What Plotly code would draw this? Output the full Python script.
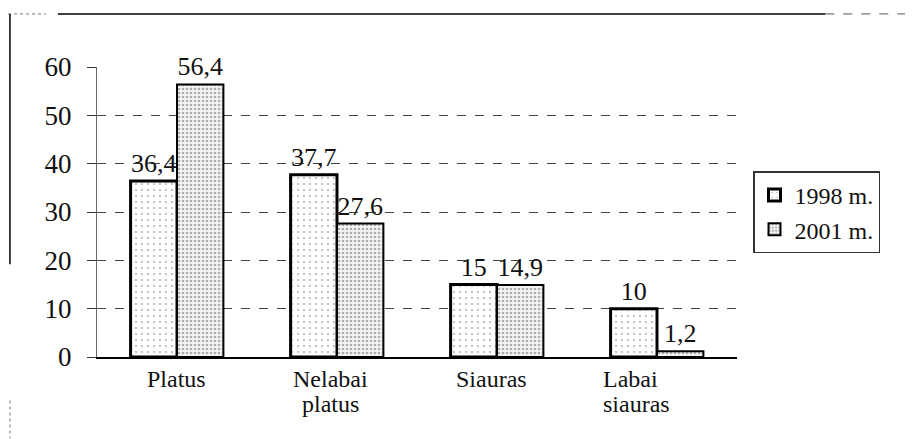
import plotly.graph_objects as go

categories = ["Platus", "Nelabai platus", "Siauras", "Labai siauras"]
category_lines = [["Platus"], ["Nelabai", "platus"], ["Siauras"], ["Labai", "siauras"]]
values_1998 = [36.4, 37.7, 15, 10]
values_2001 = [56.4, 27.6, 14.9, 1.2]
labels_1998 = ["36,4", "37,7", "15", "10"]
labels_2001 = ["56,4", "27,6", "14,9", "1,2"]
series_names = ["1998 m.", "2001 m."]
y_ticks = [0, 10, 20, 30, 40, 50, 60]

serif = "Liberation Serif"

fig = go.Figure()
fig.add_trace(go.Bar(
    x=categories, y=values_1998, name=series_names[0],
    text=labels_1998, textposition="outside", cliponaxis=False,
    textfont=dict(family=serif, size=26, color="#111"),
    marker=dict(color="white", line=dict(color="black", width=3),
                pattern=dict(shape=".", fgcolor="#555", bgcolor="white", size=6, solidity=0.08)),
))
fig.add_trace(go.Bar(
    x=categories, y=values_2001, name=series_names[1],
    text=labels_2001, textposition="outside", cliponaxis=False,
    textfont=dict(family=serif, size=26, color="#111"),
    marker=dict(color="#dddddd", line=dict(color="black", width=2),
                pattern=dict(shape=".", fgcolor="#666", bgcolor="#f4f4f4", size=4, solidity=0.35)),
))

# category labels placed under the axis (slightly shifted as in the scan)
label_style = [("center", -1), ("center", -7), ("center", -6), ("left", -56)]
for cat, lines, (anchor, dx) in zip(categories, category_lines, label_style):
    for i, line in enumerate(lines):
        fig.add_annotation(x=cat, y=0, xref="x", yref="y", text=line, showarrow=False,
                           yanchor="top", xanchor=anchor, yshift=-7 - i * 25, xshift=dx,
                           font=dict(family=serif, size=24, color="#111"))

fig.update_layout(
    width=913, height=439,
    margin=dict(l=89, r=184, t=59, b=90),
    paper_bgcolor="white", plot_bgcolor="white",
    barmode="group", bargap=0.42, bargroupgap=0,
    showlegend=True,
    legend=dict(x=1.025, y=0.64, xanchor="left", yanchor="top",
                font=dict(family=serif, size=24, color="#111"),
                bordercolor="#333", borderwidth=1.5, bgcolor="white",
                itemwidth=30, tracegroupgap=0),
    font=dict(family=serif, color="#111"),
    xaxis=dict(showticklabels=False,
               showline=True, linecolor="black", linewidth=1.5, ticks="", showgrid=False),
    yaxis=dict(range=[0, 60], tickvals=y_ticks, tickfont=dict(family=serif, size=27, color="#111"),
               showgrid=True, gridcolor="#444", griddash="dash", gridwidth=1,
               zeroline=False, showline=True, linecolor="#666", linewidth=1,
               ticks="outside", ticklen=9, tickcolor="#333", ticklabelstandoff=10),
    shapes=[
        dict(type="line", xref="paper", yref="paper", x0=-0.061, x1=1.138, y0=1.183, y1=1.183,
             line=dict(color="black", width=1.5)),
        dict(type="line", xref="paper", yref="paper", x0=-0.139, x1=-0.08, y0=1.183, y1=1.183,
             line=dict(color="#777", width=1, dash="dot")),
        dict(type="line", xref="paper", yref="paper", x0=1.138, x1=1.27, y0=1.183, y1=1.183,
             line=dict(color="#555", width=1, dash="dash")),
        dict(type="line", xref="paper", yref="paper", x0=-0.136, x1=-0.136, y0=1.183, y1=0.32,
             line=dict(color="black", width=1.5)),
        dict(type="line", xref="paper", yref="paper", x0=-0.136, x1=-0.136, y0=-0.15, y1=-0.28,
             line=dict(color="#777", width=1, dash="dot")),
    ],
)

fig.write_html("out.html")
